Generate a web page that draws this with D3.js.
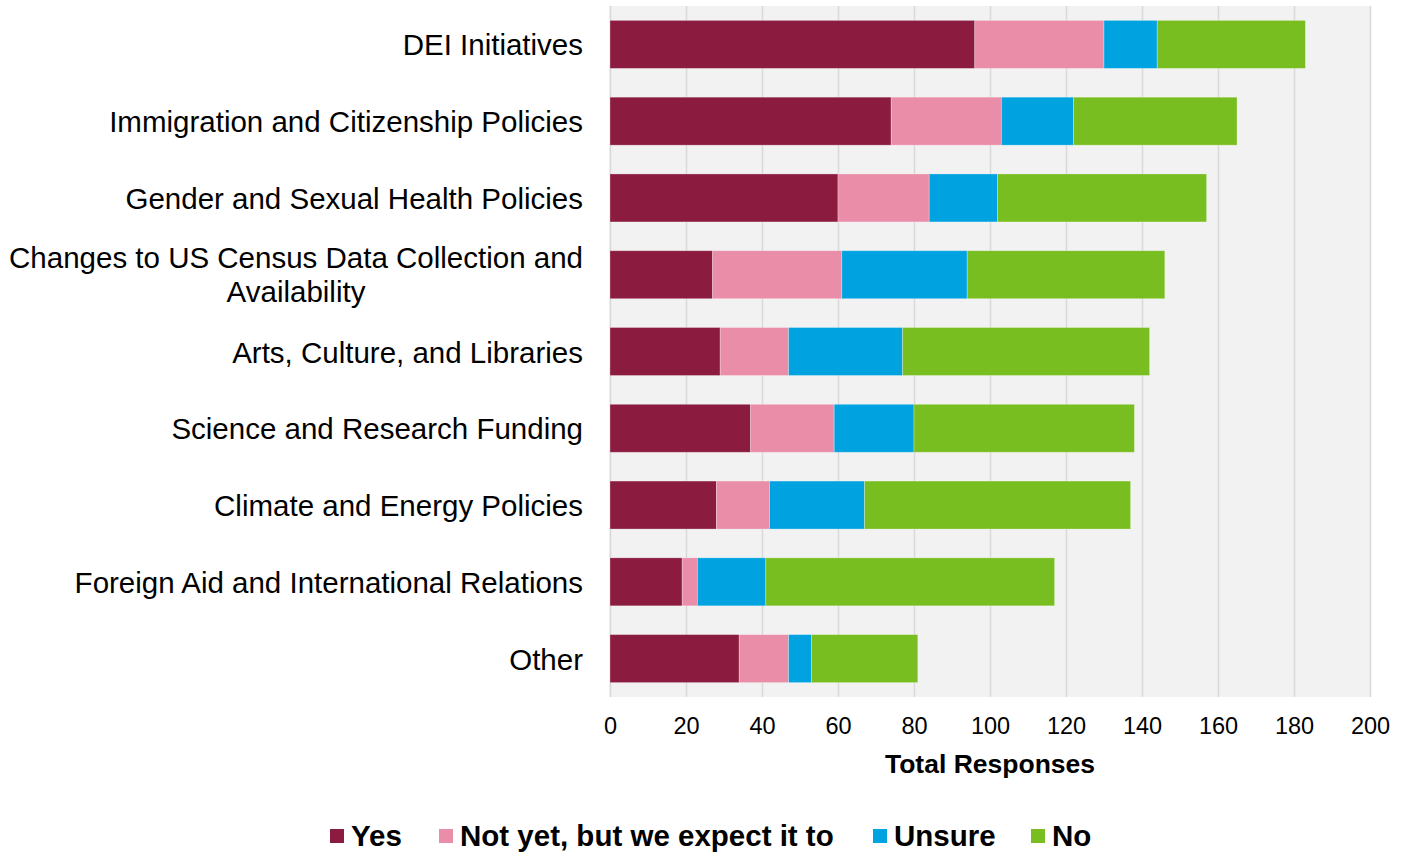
<!DOCTYPE html>
<html><head><meta charset="utf-8">
<script src="https://cdn.jsdelivr.net/npm/d3@7"></script>
<style>body{margin:0;background:#fff;} svg{display:block;font-family:"Liberation Sans",Arial,sans-serif;}</style>
</head><body>
<svg id="chart" width="1409" height="852"></svg>
<script>
const categories = ["DEI Initiatives","Immigration and Citizenship Policies","Gender and Sexual Health Policies","Changes to US Census Data Collection and Availability","Arts, Culture, and Libraries","Science and Research Funding","Climate and Energy Policies","Foreign Aid and International Relations","Other"];
const seriesNames = ["Yes","Not yet, but we expect it to","Unsure","No"];
const yesValues    = [96,74,60,27,29,37,28,19,34];
const notYetValues = [34,29,24,34,18,22,14,4,13];
const unsureValues = [14,19,18,33,30,21,25,18,6];
const noValues     = [39,43,55,52,65,58,70,76,28];
const colors = ["#8B1C40","#E98DA8","#00A2E0","#78BE20"];
const xTicks = [0,20,40,60,80,100,120,140,160,180,200];
const xTitle = "Total Responses";

(function(){
const rows = categories.map((c,i)=>({cat:c, "Yes":yesValues[i], "Not yet, but we expect it to":notYetValues[i], "Unsure":unsureValues[i], "No":noValues[i]}));
const stacked = d3.stack().keys(seriesNames)(rows);

const svg = d3.select("#chart");
const pL = 610, pR = 1370, pT = 6, pB = 697;
const x = d3.scaleLinear().domain([0,200]).range([pL,pR]);
const y = d3.scaleBand().domain(categories).range([pT,pB]).paddingInner(0.375).paddingOuter(0.1875);

svg.append("rect").attr("x",pL-1).attr("y",pT).attr("width",pR-pL+2).attr("height",pB-pT).attr("fill","#f2f2f2");

const xAxis = d3.axisBottom(x).tickValues(xTicks).tickSize(-(pB-pT)).tickSizeOuter(0).tickPadding(20);
const gx = svg.append("g").attr("transform",`translate(0,${pB})`).call(xAxis);
gx.select(".domain").remove();
gx.selectAll(".tick line").attr("stroke","#d9d9d9").attr("stroke-width",1.5);
gx.selectAll(".tick text").attr("font-size",23.5).attr("fill","#000").attr("font-family","Liberation Sans, Arial, sans-serif");

svg.append("g").selectAll("g").data(stacked).join("g")
  .attr("fill",(d,i)=>colors[i])
  .selectAll("rect").data(d=>d).join("rect")
  .attr("x",d=>x(d[0])).attr("width",d=>x(d[1])-x(d[0]))
  .attr("y",d=>y(d.data.cat)).attr("height",y.bandwidth())
  .attr("stroke","rgba(255,255,255,0.35)").attr("stroke-width",0.8);

const labelG = svg.append("g").attr("font-size",29.5).attr("fill","#000").attr("text-anchor","end");
categories.forEach(c=>{
  const cy = y(c)+y.bandwidth()/2;
  if (c.startsWith("Changes")) {
    labelG.append("text").attr("x",583).attr("y",cy-7).attr("fill","#000").text("Changes to US Census Data Collection and");
    labelG.append("text").attr("x",296).attr("y",cy+27).attr("text-anchor","middle").attr("fill","#000").text("Availability");
  } else {
    labelG.append("text").attr("x",583).attr("y",cy+11).attr("fill","#000").text(c);
  }
});

svg.append("text").attr("x",(pL+pR)/2).attr("y",773).attr("text-anchor","middle")
  .attr("font-size",26.5).attr("font-weight","bold").attr("fill","#000").text(xTitle);

const legendX = [330,439,873,1031];
const lg = svg.append("g");
seriesNames.forEach((s,i)=>{
  lg.append("rect").attr("x",legendX[i]).attr("y",829).attr("width",14).attr("height",14).attr("fill",colors[i]);
  lg.append("text").attr("x",legendX[i]+21).attr("y",846).attr("font-size",29.5).attr("font-weight","bold").attr("fill","#000").text(s);
});
})();
</script>
</body></html>
